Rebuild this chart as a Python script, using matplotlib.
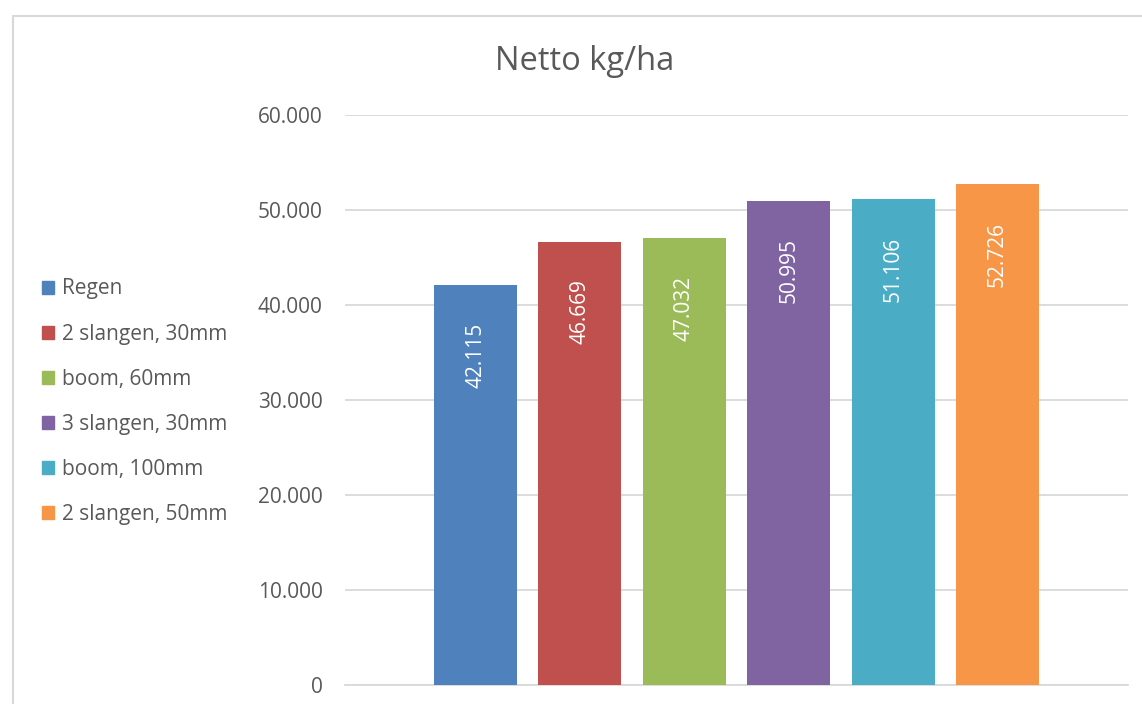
import matplotlib.pyplot as plt
from matplotlib.patches import Rectangle
from matplotlib.ticker import FuncFormatter

series = ["Regen", "2 slangen, 30mm", "boom, 60mm", "3 slangen, 30mm",
          "boom, 100mm", "2 slangen, 50mm"]
values = [42115, 46669, 47032, 50995, 51106, 52726]
colors = ["#4F81BD", "#C0504D", "#9BBB59", "#8064A2", "#4BACC6", "#F79646"]
yticks = [0, 10000, 20000, 30000, 40000, 50000, 60000]

txt = "#595959"
grid = "#d9d9d9"
plt.rcParams['font.family'] = ['Open Sans', 'DejaVu Sans']

W, H = 1142, 704
fig = plt.figure(figsize=(W / 100, H / 100), dpi=100)
fig.patches.append(Rectangle((13 / W, -0.1), 1.2, 1 - 16 / H + 0.1,
                             transform=fig.transFigure, fill=False,
                             edgecolor=grid, linewidth=1.5))

ax = fig.add_axes([345 / W, (H - 685) / H, (1128 - 345) / W, (685 - 115) / H])
x = list(range(len(values)))
bars = ax.bar(x, values, width=0.795, color=colors, zorder=3, label=None)

for xi, v in zip(x, values):
    s = f"{v / 1000:.3f}"
    ax.annotate(s, (xi, v), xytext=(0, -27), textcoords="offset points",
                rotation=90, ha="center", va="top", color="white",
                fontsize=15, zorder=4)

ax.set_xlim(-1.25, 6.25)
ax.set_ylim(0, 60000)
ax.set_yticks(yticks)
ax.yaxis.set_major_formatter(FuncFormatter(
    lambda v, p: "0" if v == 0 else f"{int(v):,}".replace(",", ".")))
ax.grid(axis="y", color=grid, linewidth=1.3, zorder=0)
ax.set_xticks([])
for sp in ["left", "right", "top"]:
    ax.spines[sp].set_visible(False)
ax.spines["bottom"].set_color(grid)
ax.spines["bottom"].set_linewidth(1.3)
ax.tick_params(axis="y", length=0, pad=16, labelsize=15, labelcolor=txt)

fig.text(585 / W, 1 - 61 / H, "Netto kg/ha", ha="center", va="center",
         fontsize=23.5, color=txt)

handles = [Rectangle((0, 0), 1, 1, color=c) for c in colors]
fig.legend(handles, series, loc="upper left", bbox_to_anchor=(42 / W, 1 - 278.5 / H),
           frameon=False, fontsize=15, labelcolor=txt, handlelength=0.58,
           handleheight=0.58, handletextpad=0.38, labelspacing=1.16,
           borderpad=0, borderaxespad=0)

fig.savefig("out.png", dpi=100)
